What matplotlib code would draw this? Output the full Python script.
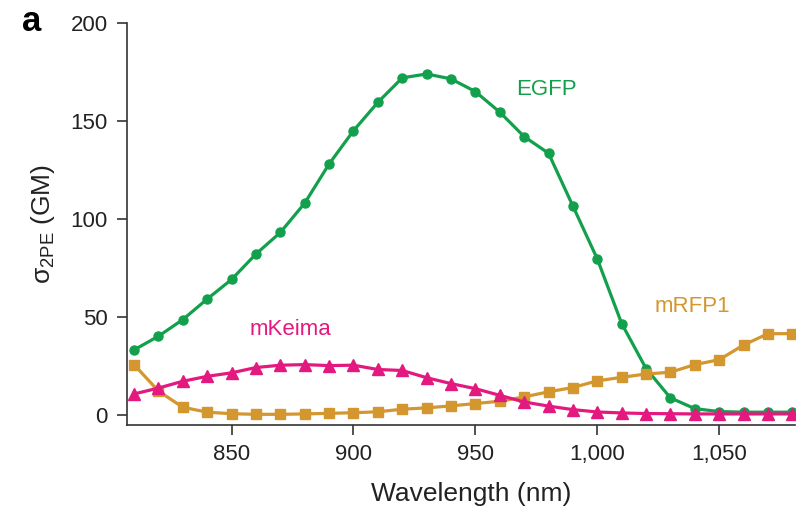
import numpy as np
import matplotlib
matplotlib.use("Agg")
import matplotlib.pyplot as plt

plt.rcParams['font.family'] = ['Liberation Sans', 'DejaVu Sans']
plt.rcParams['mathtext.fontset'] = 'custom'
plt.rcParams['mathtext.rm'] = 'Liberation Sans'

wavelength = list(range(810, 1081, 10))

egfp = [33, 40, 48.5, 59, 69, 82, 93, 108, 128, 145, 159.5, 172, 174, 171.5,
        165, 154.5, 142, 133.5, 106.5, 79.5, 46.5, 23.5, 8.5, 3, 1.5, 1.2, 1.2, 1.2]
mkeima = [10.5, 13.5, 17, 19.5, 21.3, 24, 25.2, 25.5, 25, 25.2, 23, 22.5, 18.8,
          15.8, 13.2, 9.8, 6.4, 4.3, 2.5, 1.3, 0.8, 0.5, 0.4, 0.3, 0.3, 0.3, 0.3, 0.3]
mrfp1 = [25.5, 12, 3.7, 1.2, 0.4, 0.1, 0.1, 0.3, 0.6, 0.9, 1.4, 2.7, 3.4, 4.4,
         5.6, 6.8, 9, 11.6, 13.8, 17.2, 19, 20.7, 21.6, 25.5, 28, 35.5, 41.3, 41.3]

green = '#12a04c'
pink = '#e3197f'
tan = '#d4962e'

fig = plt.figure(figsize=(8.02, 5.13), dpi=100)
ax = fig.add_axes([0.158, 0.171, 0.833, 0.784])

ax.plot(wavelength, egfp, color=green, lw=2.3, marker='o', ms=6.5, zorder=2)
ax.plot(wavelength, mrfp1, color=tan, lw=2.3, marker='s', ms=7.5, zorder=3)
ax.plot(wavelength, mkeima, color=pink, lw=2.3, marker='^', ms=8, zorder=4)

ax.text(979, 166, 'EGFP', color=green, fontsize=16, ha='center', va='center')
ax.text(874, 43.5, 'mKeima', color=pink, fontsize=16, ha='center', va='center')
ax.text(1039, 55, 'mRFP1', color=tan, fontsize=16, ha='center', va='center')

ax.set_xlim(807, 1081)
ax.set_ylim(-5.5, 200)
ax.set_xticks([850, 900, 950, 1000, 1050])
ax.set_xticklabels(['850', '900', '950', '1,000', '1,050'])
ax.set_yticks([0, 50, 100, 150, 200])

for s in ['top', 'right']:
    ax.spines[s].set_visible(False)
for s in ['left', 'bottom']:
    ax.spines[s].set_color('#333333')
    ax.spines[s].set_linewidth(1.2)

ax.tick_params(direction='out', length=7.5, width=1.2, color='#333333',
               labelsize=16, labelcolor='#222222', pad=6)

ax.set_xlabel('Wavelength (nm)', fontsize=19, color='#222222', labelpad=14)
ax.xaxis.set_label_coords(0.515, -0.14)
ax.set_ylabel(r'$\mathregular{\sigma_{2PE}}$ (GM)', fontsize=19, color='#222222', labelpad=10)

fig.text(0.039, 0.958, 'a', fontsize=25, fontweight='bold', ha='center', va='center')

fig.savefig('out.png', dpi=100)
